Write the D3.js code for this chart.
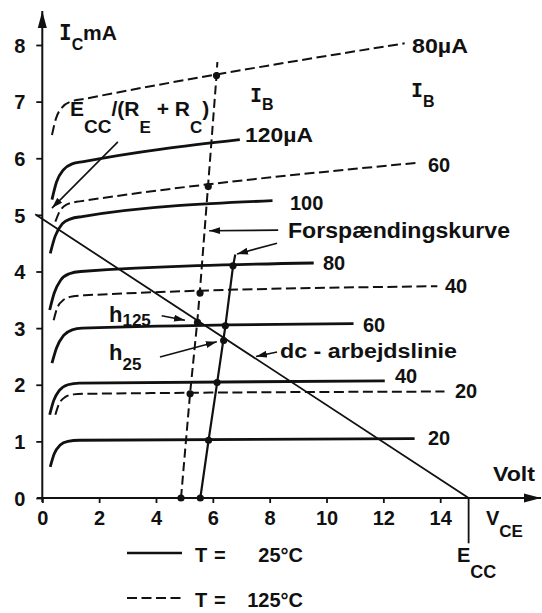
<!DOCTYPE html>
<html><head><meta charset="utf-8">
<script src="https://cdn.jsdelivr.net/npm/d3@7"></script>
<style>
body{margin:0;background:#fff}
svg{display:block;background:#fff}
text{font-family:"Liberation Sans",Arial,sans-serif;font-weight:bold;fill:#111}
.mono{font-family:"DejaVu Sans Mono",monospace}
</style>
</head><body><svg id="c" width="542" height="613"></svg>
<script>
// ---- data (V_CE in volt, I_C in mA) ----
const xTicks = [0, 2, 4, 6, 8, 10, 12, 14];
const yTicks = [0, 1, 2, 3, 4, 5, 6, 7, 8];
const ib25 = [20, 40, 60, 80, 100, 120];       // µA, T = 25°C
const ib125 = [20, 40, 60, 80];                // µA, T = 125°C
const curve25_20  = [[0.28,0.55],[0.42,0.78],[0.62,0.93],[0.9,1.0],[1.3,1.02],[13.1,1.05]];
const curve25_40  = [[0.26,1.47],[0.4,1.72],[0.6,1.9],[0.9,2.0],[1.3,2.03],[12.05,2.07]];
const curve25_60  = [[0.34,2.38],[0.5,2.65],[0.75,2.87],[1.05,2.97],[1.4,3.0],[10.95,3.08]];
const curve25_80  = [[0.26,3.32],[0.42,3.62],[0.65,3.85],[0.95,3.96],[1.35,4.0],[9.55,4.15]];
const curve25_100 = [[0.28,4.32],[0.45,4.62],[0.7,4.84],[1.0,4.93],[1.4,4.97],[8.1,5.25]];
const curve25_120 = [[0.34,5.27],[0.5,5.58],[0.75,5.8],[1.05,5.9],[1.45,5.94],[6.95,6.33]];
const curve125_20 = [[0.46,1.47],[0.58,1.65],[0.8,1.78],[1.1,1.83],[1.5,1.84],[14.15,1.88]];
const curve125_40 = [[0.4,3.14],[0.52,3.35],[0.75,3.5],[1.05,3.56],[1.5,3.58],[13.9,3.74]];
const curve125_60 = [[0.46,4.88],[0.6,5.05],[0.85,5.18],[1.2,5.23],[1.6,5.26],[13.2,5.92]];
const curve125_80 = [[0.34,6.41],[0.48,6.7],[0.7,6.9],[1.0,7.0],[1.5,7.05],[12.75,8.03]];
const bias25  = [[5.56,0],[5.85,1.02],[6.15,2.03],[6.44,3.03],[6.71,4.09],[6.79,4.3]];
const bias125 = [[4.88,0],[5.2,1.85],[5.45,3.1],[5.54,3.62],[5.83,5.5],[6.13,7.46],[6.16,7.7]];
const dots25  = [[5.56,0],[5.85,1.02],[6.15,2.04],[6.38,2.78],[6.44,3.04],[6.71,4.1]];
const dots125 = [[4.88,0],[5.2,1.84],[5.46,3.1],[5.55,3.62],[5.84,5.5],[6.13,7.46]];
const loadLine = [[-0.25,5.01],[15,0]];
const ecc = 15;

// ---- drawing ----
const svg = d3.select("#c");
const x = d3.scaleLinear().domain([0,14]).range([42.3,440.2]);
const y = d3.scaleLinear().domain([0,8]).range([498,45]);

const defs = svg.append("defs");
defs.append("marker").attr("id","axArrow").attr("markerUnits","userSpaceOnUse")
  .attr("markerWidth",18).attr("markerHeight",10).attr("refX",17).attr("refY",5).attr("orient","auto")
  .append("path").attr("d","M0,0.5 L17,5 L0,9.5 Z").attr("fill","#111");
defs.append("marker").attr("id","arr").attr("markerUnits","userSpaceOnUse")
  .attr("markerWidth",12).attr("markerHeight",8).attr("refX",11).attr("refY",4).attr("orient","auto")
  .append("path").attr("d","M0,0.5 L11,4 L0,7.5 Z").attr("fill","#111");

// axes
const gx = svg.append("g").attr("transform",`translate(0,${y(0)})`)
  .call(d3.axisBottom(x).tickValues(xTicks).tickSize(5).tickSizeOuter(0).tickFormat(d3.format("d")));
gx.select(".domain").remove();
gx.selectAll(".tick line").attr("stroke","#111").attr("stroke-width",1.8);
gx.selectAll(".tick text").attr("y",27).attr("dy",null).style("font-size","20px").attr("fill","#111");

const gy = svg.append("g").attr("transform",`translate(${x(0)},0)`)
  .call(d3.axisLeft(y).tickValues(yTicks).tickSize(6).tickSizeOuter(0).tickFormat(d3.format("d")));
gy.select(".domain").remove();
gy.selectAll(".tick line").attr("stroke","#111").attr("stroke-width",1.8);
gy.selectAll(".tick text").attr("x",-17).attr("dy","0.36em").style("font-size","20px").attr("fill","#111");

svg.append("line").attr("x1",37).attr("y1",y(0)).attr("x2",541).attr("y2",y(0))
  .attr("stroke","#111").attr("stroke-width",2).attr("marker-end","url(#axArrow)");
svg.append("line").attr("x1",x(0)).attr("y1",502).attr("x2",x(0)).attr("y2",11)
  .attr("stroke","#111").attr("stroke-width",2).attr("marker-end","url(#axArrow)");

const line = d3.line().x(d=>x(d[0])).y(d=>y(d[1])).curve(d3.curveMonotoneX);
const lineL = d3.line().x(d=>x(d[0])).y(d=>y(d[1]));

[curve25_20,curve25_40,curve25_60,curve25_80,curve25_100,curve25_120].forEach(c=>{
  svg.append("path").attr("d",line(c)).attr("fill","none").attr("stroke","#111").attr("stroke-width",2.8);
});
[curve125_20,curve125_40,curve125_60,curve125_80].forEach(c=>{
  svg.append("path").attr("d",line(c)).attr("fill","none").attr("stroke","#111").attr("stroke-width",2)
    .attr("stroke-dasharray","10,4.5");
});
// load line
svg.append("path").attr("d",lineL(loadLine)).attr("fill","none").attr("stroke","#111").attr("stroke-width",1.8);
// Ecc marker line
svg.append("line").attr("x1",x(ecc)).attr("x2",x(ecc)).attr("y1",y(0)).attr("y2",y(-0.8))
  .attr("stroke","#111").attr("stroke-width",1.8);
// bias curves
svg.append("path").attr("d",lineL(bias25)).attr("fill","none").attr("stroke","#111").attr("stroke-width",2.2);
svg.append("path").attr("d",lineL(bias125)).attr("fill","none").attr("stroke","#111").attr("stroke-width",2)
  .attr("stroke-dasharray","9,4.5");
svg.selectAll("circle.d").data(dots25.concat(dots125)).enter().append("circle")
  .attr("cx",d=>x(d[0])).attr("cy",d=>y(d[1])).attr("r",3.6).attr("fill","#111");

// annotation arrows (data space)
const arrows = [
  [[2.66,6.29],[0.34,5.12]],
  [[8.3,4.73],[5.87,4.72]],
  [[8.26,4.5],[6.85,4.31]],
  [[4.2,3.22],[5.02,3.14]],
  [[4.14,2.49],[6.14,2.76]],
  [[8.26,2.58],[7.52,2.50]]
];
arrows.forEach(a=>{
  svg.append("line").attr("x1",x(a[0][0])).attr("y1",y(a[0][1])).attr("x2",x(a[1][0])).attr("y2",y(a[1][1]))
    .attr("stroke","#111").attr("stroke-width",1.6).attr("marker-end","url(#arr)");
});

// text helpers
function txt(xp, yp, s, size, opts={}){
  const t = svg.append("text").attr("x",xp).attr("y",yp).style("font-size",size+"px").text(s);
  if(opts.len) t.attr("textLength",opts.len).attr("lengthAdjust","spacingAndGlyphs");
  if(opts.anchor) t.attr("text-anchor",opts.anchor);
  return t;
}
function sub(xp, yp, main, subs, size, subSize, dy, mono){
  const t = svg.append("text").attr("x",xp).attr("y",yp).style("font-size",size+"px");
  t.append("tspan").attr("class",mono?"mono":null).text(main);
  t.append("tspan").attr("dy",dy).style("font-size",subSize+"px").text(subs);
  return t;
}

// axis titles
const ic = sub(59, 40, "I", "C", 21, 16, 10, true);
txt(83, 40, "mA", 21);
txt(493, 481, "Volt", 21, {len:42});
sub(486, 525, "V", "CE", 20, 17, 12);
sub(457, 562, "E", "CC", 20, 18, 16);
sub(250, 102, "I", "B", 20, 16, 8, true);
sub(411, 97, "I", "B", 20, 16, 10, true);

// curve labels
txt(245, 142, "120µA", 20, {len:68});
txt(412, 53, "80µA", 20, {len:56});
txt(428, 172, "60", 20);
txt(290, 210, "100", 20);
txt(323, 270, "80", 20);
txt(445, 293, "40", 20);
txt(363, 332, "60", 20);
txt(395, 383, "40", 20);
txt(455, 398, "20", 20);
txt(428, 445, "20", 20);
txt(288, 238, "Forspændingskurve", 22, {len:222});
txt(280, 358, "dc - arbejdslinie", 20, {len:177});

// h labels
sub(109, 322, "h", "125", 22, 17, 4);
sub(109, 360, "h", "25", 22, 17, 10);

// Ecc/(Re+Rc)
const e = svg.append("text").attr("x",70).attr("y",116).style("font-size","21px");
e.append("tspan").text("E");
e.append("tspan").attr("dy",17).style("font-size","19px").text("CC");
e.append("tspan").attr("dy",-17).text("/(R");
e.append("tspan").attr("dy",17).style("font-size","17px").text("E");
e.append("tspan").attr("dy",-17).text(" + R");
e.append("tspan").attr("dy",17).style("font-size","17px").text("C");
e.append("tspan").attr("dy",-17).text(")");

// legend
svg.append("line").attr("x1",127).attr("x2",182).attr("y1",553).attr("y2",553).attr("stroke","#111").attr("stroke-width",2.4);
svg.append("line").attr("x1",127).attr("x2",182).attr("y1",598).attr("y2",598).attr("stroke","#111").attr("stroke-width",2)
  .attr("stroke-dasharray","10,4.5");
txt(195, 562, "T", 20); txt(214, 562, "=", 20); txt(303, 562, "25°C", 20, {anchor:"end"});
txt(195, 607, "T", 20); txt(214, 607, "=", 20); txt(303, 607, "125°C", 20, {anchor:"end"});
</script>
</body></html>
